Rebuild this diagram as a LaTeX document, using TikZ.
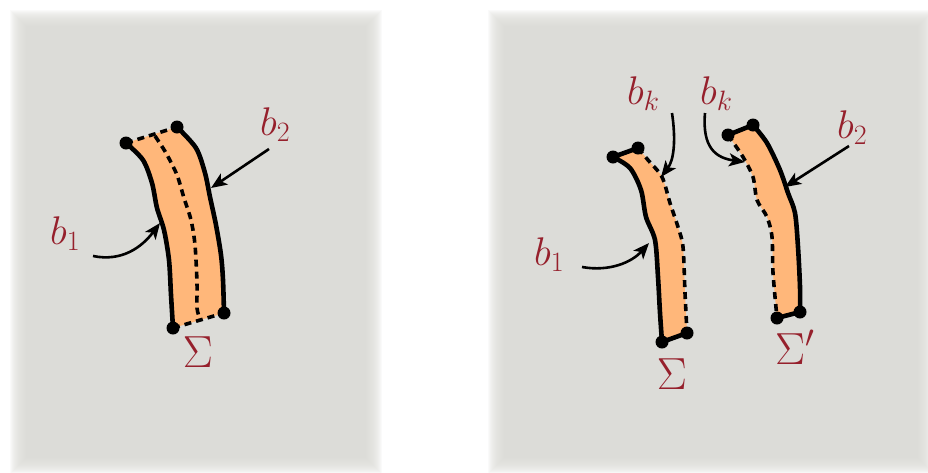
\RequirePackage{fix-cm}
\documentclass[tikz,border=0pt]{standalone}
\usetikzlibrary{arrows.meta}
\definecolor{panelgray}{RGB}{220,220,216}
\definecolor{stripfill}{RGB}{255,183,122}
\definecolor{labelred}{RGB}{150,32,44}
\tikzset{
  edgesolid/.style={line width=4.6pt, line cap=round, line join=round},
  edgedash/.style={line width=3.6pt, dash pattern=on 7pt off 5pt},
  enddot/.style={circle, fill=black, inner sep=0pt, minimum size=13pt},
  pointer/.style={line width=2.6pt, -{Stealth[length=16pt,width=13pt,inset=4pt]}},
  lbl/.style={text=labelred, inner sep=0pt, font=\fontsize{40}{44}\selectfont},
  siglbl/.style={text=labelred, inner sep=0pt, font=\fontsize{45}{50}\selectfont},
}
\begin{document}
\begin{tikzpicture}[x=1pt,y=-1pt]
\useasboundingbox (0,0) rectangle (928,472);
\fill[white] (0,0) rectangle (928,472);
% panels with soft edges
\foreach \i in {0,...,19}{
  \fill[panelgray, opacity=0.12] (10+\i,10+\i) rectangle (382-\i,474-\i);
  \fill[panelgray, opacity=0.12] (488+\i,10+\i) rectangle (934-\i,474-\i);
}
\fill[panelgray] (30,30) rectangle (362,454);
\fill[panelgray] (508,30) rectangle (914,454);

% ---------- left strip ----------
\fill[stripfill] plot[smooth] coordinates {(126,143) (143,160) (152,183) (157,208) (164,230) (169,260) (171,295) (173,328)}
  -- (224,313) -- plot[smooth] coordinates {(224,313) (223,280) (221,255) (216,225) (210,197) (205,173) (196,148) (177,127)} -- cycle;
\draw[edgesolid] plot[smooth] coordinates {(126,143) (143,160) (152,183) (157,208) (164,230) (169,260) (171,295) (173,328)};
\draw[edgesolid] plot[smooth] coordinates {(177,127) (196,148) (205,173) (210,197) (216,225) (221,255) (223,280) (224,313)};
\draw[edgedash] (126,143) -- (177,127);
\draw[edgedash] (173,328) -- (224,313);
\draw[edgedash] plot[smooth] coordinates {(155,136) (166,153) (177,175) (184,198) (191,220) (195,245) (197,283) (197,308) (200,319)};
\node[enddot] (la) at (126,143) {};
\node[enddot] (lb) at (177,127) {};
\node[enddot] (lc) at (173,328) {};
\node[enddot] (ld) at (224,313) {};

\node[lbl, anchor=base west] (lb1) at (50,244) {$b_1$};
\node[lbl, anchor=base west] (lb2) at (260,135) {$b_2$};
\node[siglbl, anchor=base] (lsig) at (198,367) {$\Sigma$};
\coordinate (lb1s) at (93,256);
\coordinate (lb1t) at (160,223);
\coordinate (lb2s) at (269,149);
\coordinate (lb2t) at (211,188);
\draw[pointer] (lb1s) .. controls (122,262) and (142,247) .. (lb1t);
\draw[pointer] (lb2s) -- (lb2t);

% ---------- right strip A ----------
\fill[stripfill] plot[smooth] coordinates {(613,157) (630,168) (641,190) (646,217) (655,240) (658,277) (660,313) (662,342)}
  -- (687,333) -- plot[smooth] coordinates {(687,333) (685,293) (683,247) (678,227) (670,203) (662,177) (648,160) (638,148)} -- cycle;
\draw[edgesolid] plot[smooth] coordinates {(613,157) (630,168) (641,190) (646,217) (655,240) (658,277) (660,313) (662,342)};
\draw[edgesolid] (613,157) -- (638,148);
\draw[edgesolid] (662,342) -- (687,333);
\draw[edgedash] plot[smooth] coordinates {(638,148) (648,160) (662,177) (670,203) (678,227) (683,247) (685,293) (687,333)};
\node[enddot] (ra) at (613,157) {};
\node[enddot] (rb) at (638,148) {};
\node[enddot] (rc) at (662,342) {};
\node[enddot] (rd) at (687,333) {};

% ---------- right strip B ----------
\fill[stripfill] plot[smooth] coordinates {(728,135) (743,157) (753,177) (757,200) (767,217) (772,237) (773,273) (777,318)}
  -- (800,312) -- plot[smooth] coordinates {(800,312) (800,287) (798,247) (795,213) (788,193) (780,170) (767,143) (753,125)} -- cycle;
\draw[edgedash] plot[smooth] coordinates {(728,135) (743,157) (753,177) (757,200) (767,217) (772,237) (773,273) (777,318)};
\draw[edgesolid] plot[smooth] coordinates {(753,125) (767,143) (780,170) (788,193) (795,213) (798,247) (800,287) (800,312)};
\draw[edgesolid] (728,135) -- (753,125);
\draw[edgesolid] (777,318) -- (800,312);
\node[enddot] (re) at (728,135) {};
\node[enddot] (rf) at (753,125) {};
\node[enddot] (rg) at (777,318) {};
\node[enddot] (rh) at (800,312) {};

\node[lbl, anchor=base west] (rb1) at (534,265) {$b_1$};
\node[lbl, anchor=base west] (rbk1) at (627,104) {$b_k$};
\node[lbl, anchor=base west] (rbk2) at (700,104) {$b_k$};
\node[lbl, anchor=base west] (rb2) at (837,138) {$b_2$};
\node[siglbl, anchor=base] (rsig) at (672,389) {$\Sigma$};
\node[siglbl, anchor=base west] (rsigp) at (775,364) {$\Sigma'$};

\coordinate (rb1s) at (582,267);
\coordinate (rb1t) at (649,243);
\coordinate (rk1s) at (672,113);
\coordinate (rk1t) at (661,177);
\coordinate (rk2s) at (705,113);
\coordinate (rk2t) at (745,162);
\coordinate (rb2s) at (849,146);
\coordinate (rb2t) at (785,187);
\draw[pointer] (rb1s) .. controls (610,272) and (632,262) .. (rb1t);
\draw[pointer] (rk1s) .. controls (676,140) and (674,160) .. (rk1t);
\draw[pointer] (rk2s) .. controls (702,148) and (716,158) .. (rk2t);
\draw[pointer] (rb2s) -- (rb2t);
\end{tikzpicture}
\end{document}
